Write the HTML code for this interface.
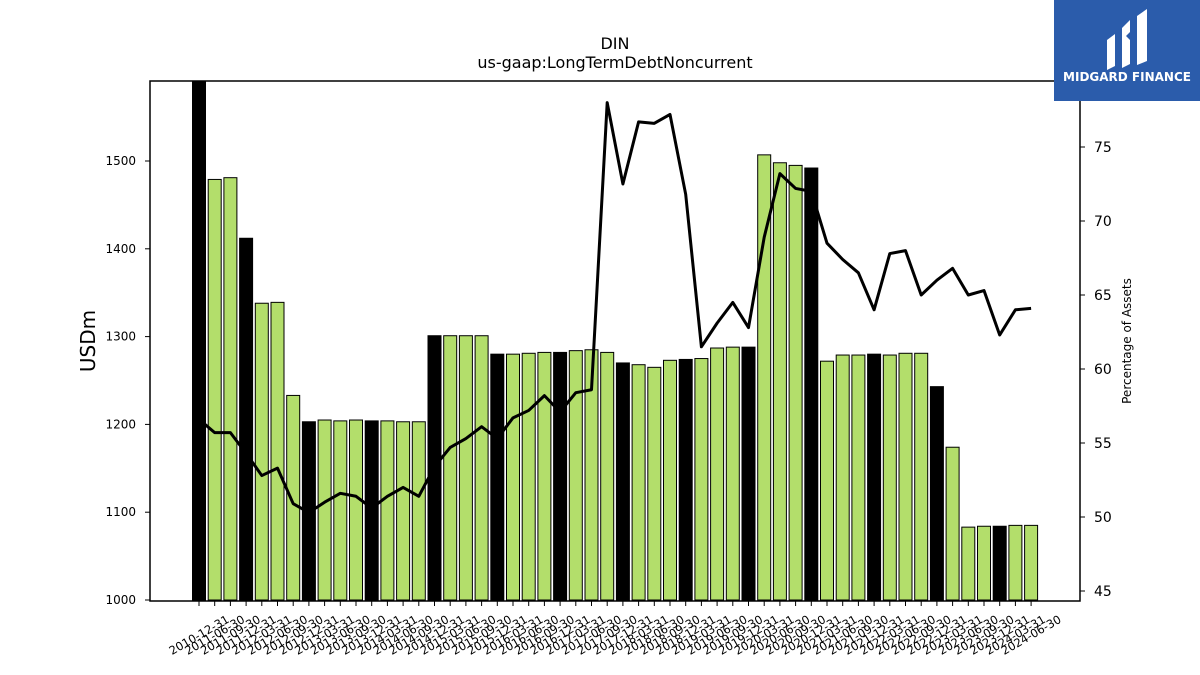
<!DOCTYPE html>
<html><head><meta charset="utf-8"><style>
body{margin:0;background:#fff;}
svg{display:block;font-family:"DejaVu Sans","Liberation Sans",sans-serif;}
</style></head><body>
<svg id="chart" width="1200" height="675">
<text x="615" y="49" font-size="16" text-anchor="middle">DIN</text>
<text x="615" y="68" font-size="16" text-anchor="middle">us-gaap:LongTermDebtNoncurrent</text>
<g id="bars"></g><g id="line"></g><g id="axes"></g>
<rect x="150" y="81" width="930" height="520" fill="none" stroke="#000" stroke-width="1.5"/>
<text transform="translate(95,341) rotate(-90)" font-size="20" text-anchor="middle">USDm</text>
<text transform="translate(1131,341) rotate(-90)" font-size="12" text-anchor="middle">Percentage of Assets</text>
<g>
<rect x="1054" y="0" width="146" height="101" fill="#2b5cab"/>
<path d="M1107 40 l8 -6 v32 l-8 4z M1122 28 l8 -8 v12 l-4 4 l4 4 v24 l-8 4z M1137 16 l10 -7 v52 l-10 4z" fill="#fff"/>
<text x="1127" y="81" font-size="12" font-weight="bold" fill="#fff" text-anchor="middle">MIDGARD FINANCE</text>
</g>
</svg>
<script>
const categories=["2010-12-31","2011-06-30","2011-09-30","2011-12-31","2012-03-31","2012-06-30","2012-09-30","2012-12-31","2013-03-31","2013-06-30","2013-09-30","2013-12-31","2014-03-31","2014-06-30","2014-09-30","2014-12-31","2015-03-31","2015-06-30","2015-09-30","2015-12-31","2016-03-31","2016-06-30","2016-09-30","2016-12-31","2017-03-31","2017-06-30","2017-09-30","2017-12-31","2018-03-31","2018-06-30","2018-09-30","2018-12-31","2019-03-31","2019-06-30","2019-09-30","2019-12-31","2020-03-31","2020-06-30","2020-09-30","2020-12-31","2021-03-31","2021-06-30","2021-09-30","2021-12-31","2022-03-31","2022-06-30","2022-09-30","2022-12-31","2023-03-31","2023-06-30","2023-09-30","2023-12-31","2024-03-31","2024-06-30"];
const debtValues=[1600,1479,1481,1412,1338,1339,1233,1203,1205,1204,1205,1204,1204,1203,1203,1301,1301,1301,1301,1280,1280,1281,1282,1282,1284,1285,1282,1270,1268,1265,1273,1274,1275,1287,1288,1288,1507,1498,1495,1492,1272,1279,1279,1280,1279,1281,1281,1243,1174,1083,1084,1084,1085,1085];
const pctValues=[56.6,55.7,55.7,54.3,52.8,53.3,50.9,50.3,51.0,51.6,51.4,50.6,51.4,52.0,51.4,53.4,54.7,55.3,56.1,55.3,56.7,57.2,58.2,57.1,58.4,58.6,78.0,72.5,76.7,76.6,77.2,71.8,61.5,63.1,64.5,62.8,68.9,73.2,72.2,72.0,68.5,67.4,66.5,64.0,67.8,68.0,65.0,66.0,66.8,65.0,65.3,62.3,64.0,64.1];
const leftTicks=[1000,1100,1200,1300,1400,1500];
const rightTicks=[45,50,55,60,65,70,75];
const NS="http://www.w3.org/2000/svg";
const X0=199,DX=15.7,PT=81,PB=601;
function xs(i){return X0+i*DX;}
function yL(v){return 600-(v-1000)*0.878;}
function yR(v){return 147+(75-v)*14.8;}
function mk(t,a,p){const e=document.createElementNS(NS,t);for(const k in a)e.setAttribute(k,a[k]);p.appendChild(e);return e;}
const bars=document.getElementById('bars'),line=document.getElementById('line'),axes=document.getElementById('axes');
categories.forEach((c,i)=>{
  const top=Math.max(yL(debtValues[i]),PT);
  const fy=c.endsWith('12-31');
  const r=mk('rect',{x:xs(i)-6.5,y:top,width:13,height:600-top,fill:fy?'#000':'#b3de6b',stroke:'#000','stroke-width':1},bars);
  
  
  const t=mk('line',{x1:xs(i),x2:xs(i),y1:PB,y2:PB+5,stroke:'#000'},axes);
  
  
  const l=mk('text',{x:0,y:4,'font-size':11.5,'text-anchor':'middle',transform:`translate(${xs(i)},${PB+34}) rotate(-30)`},axes);
  l.textContent=c;
  
  
});
const pts=pctValues.map((v,i)=>xs(i)+','+yR(v)).join(' ');
const pl=mk('polyline',{points:pts,fill:'none',stroke:'#000','stroke-width':3,'stroke-linejoin':'round'},line);


leftTicks.forEach(v=>{
  const t=mk('line',{x1:145,x2:150,y1:yL(v),y2:yL(v),stroke:'#000'},axes);
  
  
  const l=mk('text',{x:136,y:yL(v)+4,'font-size':12,'text-anchor':'end'},axes);
  l.textContent=v;
  
  
});
rightTicks.forEach(v=>{
  const t=mk('line',{x1:1080,x2:1085,y1:yR(v),y2:yR(v),stroke:'#000'},axes);
  
  
  const l=mk('text',{x:1094,y:yR(v)+5,'font-size':14},axes);
  l.textContent=v;
  
  
});
</script>
</body></html>
